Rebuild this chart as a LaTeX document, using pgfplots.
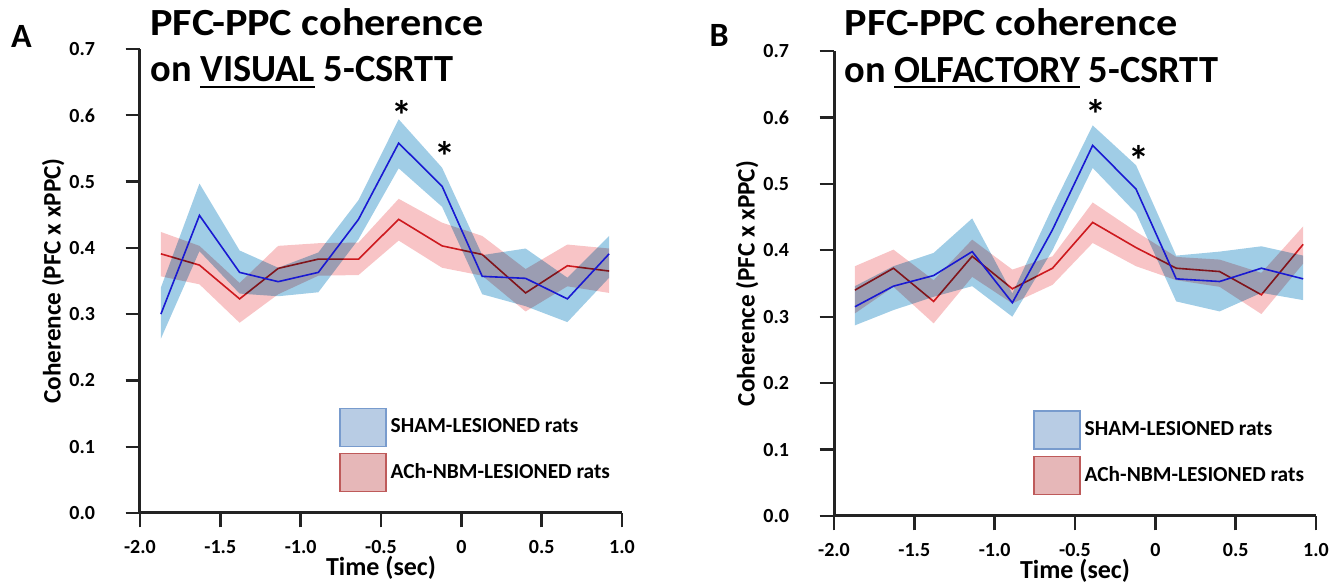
\documentclass[border=0pt]{standalone}
\usepackage{fontspec}
\setmainfont{Carlito}
\usepackage{pgfplots}
\pgfplotsset{compat=1.18}

\definecolor{bandblue}{RGB}{160,205,230}
\definecolor{bandred}{RGB}{248,196,198}
\definecolor{lineblue}{RGB}{25,25,210}
\definecolor{linered}{RGB}{205,25,30}
\definecolor{legblue}{RGB}{184,204,228}
\definecolor{legblueb}{RGB}{120,155,205}
\definecolor{legred}{RGB}{230,183,184}
\definecolor{legredb}{RGB}{190,90,90}
\definecolor{axisgray}{RGB}{35,35,35}

\newcommand\ul[1]{\setbox0\hbox{#1}\rlap{\rule[-2.8pt]{\wd0}{1pt}}\box0\relax}

\tikzset{
    ttl/.style={anchor=base west, inner sep=0pt, font=\fontsize{19.2}{22}\selectfont\bfseries},
    star/.style={font=\fontsize{21}{21}\selectfont\bfseries},
}

% outward tick marks, set as rules so that they always show
\newcommand\xt[1]{\node[inner sep=0pt, anchor=north, text=axisgray] at (axis cs:#1,0) {\rule{1.2pt}{7pt}};}
\newcommand\yt[1]{\node[inner sep=0pt, anchor=east, text=axisgray] at (axis cs:-2,#1) {\rule[-0.6pt]{7pt}{1.2pt}};}
\newcommand\cohticks{%
    \xt{-2}\xt{-1.5}\xt{-1}\xt{-0.5}\xt{0}\xt{0.5}\xt{1}%
    \yt{0}\yt{0.1}\yt{0.2}\yt{0.3}\yt{0.4}\yt{0.5}\yt{0.6}\yt{0.7}%
}

\pgfplotsset{coh/.style={
    scale only axis, width=241pt, height=232pt,
    xmin=-2, xmax=1, ymin=0, ymax=0.7,
    axis x line*=bottom, axis y line*=left,
    axis line style={line width=1.5pt, draw=axisgray},
    tick align=outside, major tick length=7pt,
    every tick/.style={line width=1.2pt, draw=axisgray},
    xtick={-2,-1.5,-1,-0.5,0,0.5,1},
    xticklabels={-2.0,-1.5,-1.0,-0.5,0,0.5,1.0},
    ytick={0,0.1,0.2,0.3,0.4,0.5,0.6,0.7},
    yticklabels={0.0,0.1,0.2,0.3,0.4,0.5,0.6,0.7},
    ticklabel style={font=\fontsize{10}{12}\selectfont\bfseries, inner sep=1pt},
    xticklabel style={anchor=center, yshift=-10pt},
    yticklabel style={anchor=east, xshift=-14.3pt},
    xlabel={Time (sec)}, ylabel={Coherence (PFC x xPPC)},
    xlabel style={at={(axis description cs:0.5,-0.118)}, anchor=center, inner sep=0pt,
        font=\fontsize{13}{15}\selectfont\bfseries},
    ylabel style={at={(axis description cs:-0.18,0.5)}, anchor=center,
        font=\fontsize{12.6}{15}\selectfont\bfseries},
    clip=false,
    legend style={at={(axis description cs:0.413,0.228)}, anchor=north west,
        draw=none, fill=none, inner sep=0pt, row sep=3pt,
        font=\fontsize{10.7}{12}\selectfont\bfseries},
    legend cell align=left,
    legend image code/.code={\draw[#1] (0pt,-9.5pt) rectangle (23pt,9.5pt);},
}}

\begin{document}
\begin{tikzpicture}
\useasboundingbox (0,0) rectangle (671.5pt,291.5pt);

% ---------------- panel A: visual
\begin{axis}[coh, at={(70pt,35pt)}, anchor=south west]
    % ACh-NBM band (upper, then lower reversed)
    \addplot[fill=bandred, draw=none, forget plot] coordinates {
        (-1.87,0.424) (-1.63,0.403) (-1.38,0.347) (-1.14,0.403) (-0.89,0.407) (-0.64,0.408)
        (-0.39,0.474) (-0.12,0.438) (0.13,0.418) (0.40,0.368) (0.66,0.405) (0.92,0.399)
        (0.92,0.332) (0.66,0.342) (0.40,0.304) (0.13,0.358) (-0.12,0.370) (-0.39,0.411)
        (-0.64,0.359) (-0.89,0.358) (-1.14,0.330) (-1.38,0.287) (-1.63,0.345) (-1.87,0.357)
    } -- cycle;
    \addplot[linered, line width=0.8pt, forget plot] coordinates {
        (-1.87,0.391) (-1.63,0.374) (-1.38,0.323) (-1.14,0.369) (-0.89,0.383) (-0.64,0.383)
        (-0.39,0.443) (-0.12,0.403) (0.13,0.390) (0.40,0.332) (0.66,0.373) (0.92,0.365)
    };
    % SHAM band
    \addplot[fill=bandblue, draw=none, blend mode=multiply, forget plot] coordinates {
        (-1.87,0.340) (-1.63,0.497) (-1.38,0.396) (-1.14,0.370) (-0.89,0.393) (-0.64,0.472)
        (-0.39,0.594) (-0.12,0.521) (0.13,0.389) (0.40,0.399) (0.66,0.355) (0.92,0.418)
        (0.92,0.355) (0.66,0.288) (0.40,0.312) (0.13,0.330) (-0.12,0.462) (-0.39,0.520)
        (-0.64,0.413) (-0.89,0.333) (-1.14,0.327) (-1.38,0.331) (-1.63,0.395) (-1.87,0.263)
    } -- cycle;
    \addplot[lineblue, line width=0.8pt, forget plot] coordinates {
        (-1.87,0.300) (-1.63,0.449) (-1.38,0.363) (-1.14,0.349) (-0.89,0.363) (-0.64,0.443)
        (-0.39,0.558) (-0.12,0.493) (0.13,0.357) (0.40,0.354) (0.66,0.323) (0.92,0.391)
    };
    \addlegendimage{fill=legblue, draw=legblueb, line width=0.6pt}
    \addlegendentry{SHAM-LESIONED rats}
    \addlegendimage{fill=legred, draw=legredb, line width=0.6pt}
    \addlegendentry{ACh-NBM-LESIONED rats}

    \cohticks
    \node[star] at (axis cs:-0.37,0.600) {*};
    \node[star] at (axis cs:-0.10,0.538) {*};
    \node[ttl] at (axis description cs:0.021,1.030) {\scalebox{1.1}[1]{PFC-PPC coherence}};
    \node[ttl] at (axis description cs:0.021,0.929) {on \ul{VISUAL} 5-CSRTT};
    \node[ttl, font=\fontsize{17}{18}\selectfont\bfseries]
        at (axis description cs:-0.268,1.004) {A};
\end{axis}

% ---------------- panel B: olfactory
\begin{axis}[coh, at={(417pt,33.5pt)}, anchor=south west, height=232.5pt]
    \addplot[fill=bandred, draw=none, forget plot] coordinates {
        (-1.87,0.376) (-1.63,0.401) (-1.38,0.355) (-1.14,0.416) (-0.89,0.371) (-0.64,0.391)
        (-0.39,0.472) (-0.12,0.428) (0.13,0.390) (0.40,0.386) (0.66,0.366) (0.92,0.436)
        (0.92,0.380) (0.66,0.304) (0.40,0.345) (0.13,0.355) (-0.12,0.376) (-0.39,0.411)
        (-0.64,0.348) (-0.89,0.320) (-1.14,0.360) (-1.38,0.290) (-1.63,0.345) (-1.87,0.305)
    } -- cycle;
    \addplot[linered, line width=0.8pt, forget plot] coordinates {
        (-1.87,0.340) (-1.63,0.373) (-1.38,0.323) (-1.14,0.391) (-0.89,0.342) (-0.64,0.373)
        (-0.39,0.442) (-0.12,0.404) (0.13,0.373) (0.40,0.368) (0.66,0.333) (0.92,0.409)
    };
    \addplot[fill=bandblue, draw=none, blend mode=multiply, forget plot] coordinates {
        (-1.87,0.346) (-1.63,0.376) (-1.38,0.396) (-1.14,0.448) (-0.89,0.335) (-0.64,0.465)
        (-0.39,0.588) (-0.12,0.528) (0.13,0.392) (0.40,0.398) (0.66,0.406) (0.92,0.392)
        (0.92,0.325) (0.66,0.336) (0.40,0.308) (0.13,0.323) (-0.12,0.456) (-0.39,0.524)
        (-0.64,0.400) (-0.89,0.300) (-1.14,0.346) (-1.38,0.330) (-1.63,0.310) (-1.87,0.287)
    } -- cycle;
    \addplot[lineblue, line width=0.8pt, forget plot] coordinates {
        (-1.87,0.315) (-1.63,0.346) (-1.38,0.362) (-1.14,0.398) (-0.89,0.321) (-0.64,0.431)
        (-0.39,0.558) (-0.12,0.492) (0.13,0.357) (0.40,0.353) (0.66,0.373) (0.92,0.357)
    };
    \addlegendimage{fill=legblue, draw=legblueb, line width=0.6pt}
    \addlegendentry{SHAM-LESIONED rats}
    \addlegendimage{fill=legred, draw=legredb, line width=0.6pt}
    \addlegendentry{ACh-NBM-LESIONED rats}

    \cohticks
    \node[star] at (axis cs:-0.37,0.604) {*};
    \node[star] at (axis cs:-0.10,0.535) {*};
    \node[ttl] at (axis description cs:0.021,1.034) {\scalebox{1.1}[1]{PFC-PPC coherence}};
    \node[ttl] at (axis description cs:0.021,0.933) {on \ul{OLFACTORY} 5-CSRTT};
    \node[ttl, font=\fontsize{17}{18}\selectfont\bfseries]
        at (axis description cs:-0.259,1.009) {B};
\end{axis}
\end{tikzpicture}
\end{document}
